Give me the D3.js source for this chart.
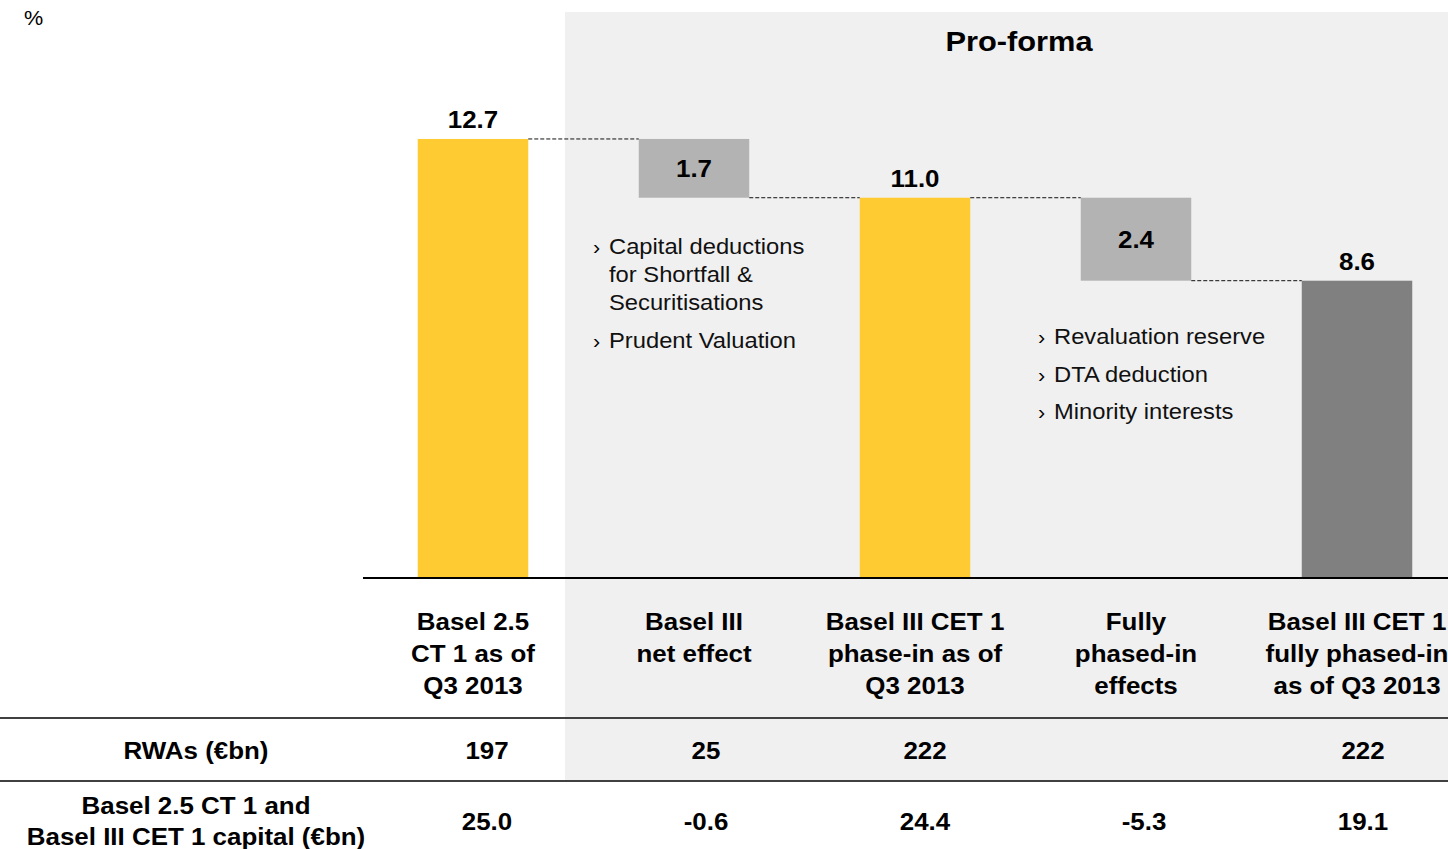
<!DOCTYPE html>
<html><head><meta charset="utf-8">
<script src="https://cdn.jsdelivr.net/npm/d3@7"></script>
<style>body{margin:0;background:#fff}svg{display:block;font-family:Arial,"Liberation Sans",sans-serif}</style>
</head><body>
<svg id="c" width="1448" height="849"></svg>
<script>
const categories = [
  ["Basel 2.5","CT 1 as of","Q3 2013"],
  ["Basel III","net effect"],
  ["Basel III CET 1","phase-in as of","Q3 2013"],
  ["Fully","phased-in","effects"],
  ["Basel III CET 1","fully phased-in","as of Q3 2013"]
];
const barType = ["total","delta","total","delta","final"];
const values = [12.7, -1.7, 11.0, -2.4, 8.6];
const valueLabels = ["12.7","1.7","11.0","2.4","8.6"];
const rwas = ["197","25","222","","222"];
const capital = ["25.0","-0.6","24.4","-5.3","19.1"];
const rowLabels = [["RWAs (€bn)"],["Basel 2.5 CT 1 and","Basel III CET 1 capital (€bn)"]];
const notesLeft = [["Capital deductions","for Shortfall &","Securitisations"],["Prudent Valuation"]];
const notesRight = [["Revaluation reserve"],["DTA deduction"],["Minority interests"]];

const svg = d3.select("#c");
const colors = {total:"#FECB33", delta:"#B3B3B3", final:"#808080"};
const SX = 1.08;

const x = d3.scaleBand().domain(d3.range(categories.length)).range([362.5,1467.5]).paddingInner(0.5).paddingOuter(0.25);
const y = d3.scaleLinear().domain([0,14]).range([578, 578-14*34.57]);
const tx = d3.scalePoint().domain(d3.range(categories.length)).range([487,1363]);

function txt(px, py, lines, size, bold, anchor, lh, fill){
  const g = svg.append("g").attr("transform",`translate(${px},${py}) scale(${SX},1)`);
  const t = g.append("text").attr("font-size",size).attr("text-anchor",anchor||"middle")
    .attr("font-weight",bold?"bold":"normal").attr("fill",fill||"#000");
  [].concat(lines).forEach((l,k)=>t.append("tspan").attr("x",0).attr("dy",k?lh:0).text(l));
  return t;
}

// shaded pro-forma panel
svg.append("rect").attr("x",565).attr("y",12).attr("width",1448-565).attr("height",781-12).attr("fill","#F0F0F0");

txt(24,25,"%",20,false,"start");
txt(1019,51,"Pro-forma",28.5,true,"middle");

// waterfall
let run = 0;
const bars = values.map((v,i)=>{
  let y0,y1;
  if(barType[i]==="delta"){ y0 = run + v; y1 = run; run = run + v; }
  else { y0 = 0; y1 = v; run = v; }
  return {i,y0,y1,type:barType[i]};
});

svg.selectAll("rect.bar").data(bars).join("rect").attr("class","bar")
  .attr("x",d=>x(d.i)).attr("width",x.bandwidth())
  .attr("y",d=>y(d.y1)).attr("height",d=>y(d.y0)-y(d.y1))
  .attr("fill",d=>colors[d.type]);

for(let i=0;i<bars.length-1;i++){
  const b = bars[i];
  const level = b.type==="delta" ? b.y0 : b.y1;
  svg.append("line").attr("x1",x(i)+x.bandwidth()).attr("x2",x(i+1))
    .attr("y1",y(level)).attr("y2",y(level))
    .attr("stroke","#111").attr("stroke-width",1).attr("stroke-dasharray","4,2");
}

bars.forEach((d,i)=>{
  const cx = x(d.i)+x.bandwidth()/2;
  const cy = d.type==="delta" ? (y(d.y0)+y(d.y1))/2+8.5 : y(d.y1)-11;
  txt(cx, cy, valueLabels[i], 24, true, "middle");
});

svg.append("line").attr("x1",363).attr("x2",1448).attr("y1",578).attr("y2",578).attr("stroke","#000").attr("stroke-width",2);

categories.forEach((lines,i)=>txt(x(i)+x.bandwidth()/2, 630, lines, 24, true, "middle", 32));

function notes(arr,bx,ys){
  arr.forEach((lines,g)=>{
    txt(bx, ys[g][0]+7.5, "›", 20, false, "start");
    lines.forEach((l,k)=>txt(bx+16, ys[g][k]+7.5, l, 22, false, "start", 0, "#111"));
  });
}
notes(notesLeft,593,[[246,274,302],[340]]);
notes(notesRight,1038,[[336],[374],[411]]);

// table
svg.append("line").attr("x1",0).attr("x2",1448).attr("y1",718).attr("y2",718).attr("stroke","#404040").attr("stroke-width",2);
svg.append("line").attr("x1",0).attr("x2",1448).attr("y1",781).attr("y2",781).attr("stroke","#404040").attr("stroke-width",2);

txt(196,759,rowLabels[0],24,true,"middle");
txt(196,814,rowLabels[1],24,true,"middle",31);

rwas.forEach((v,i)=>{ if(v) txt(tx(i),759,v,24,true,"middle"); });
capital.forEach((v,i)=>txt(tx(i),830,v,24,true,"middle"));
</script>
</body></html>
